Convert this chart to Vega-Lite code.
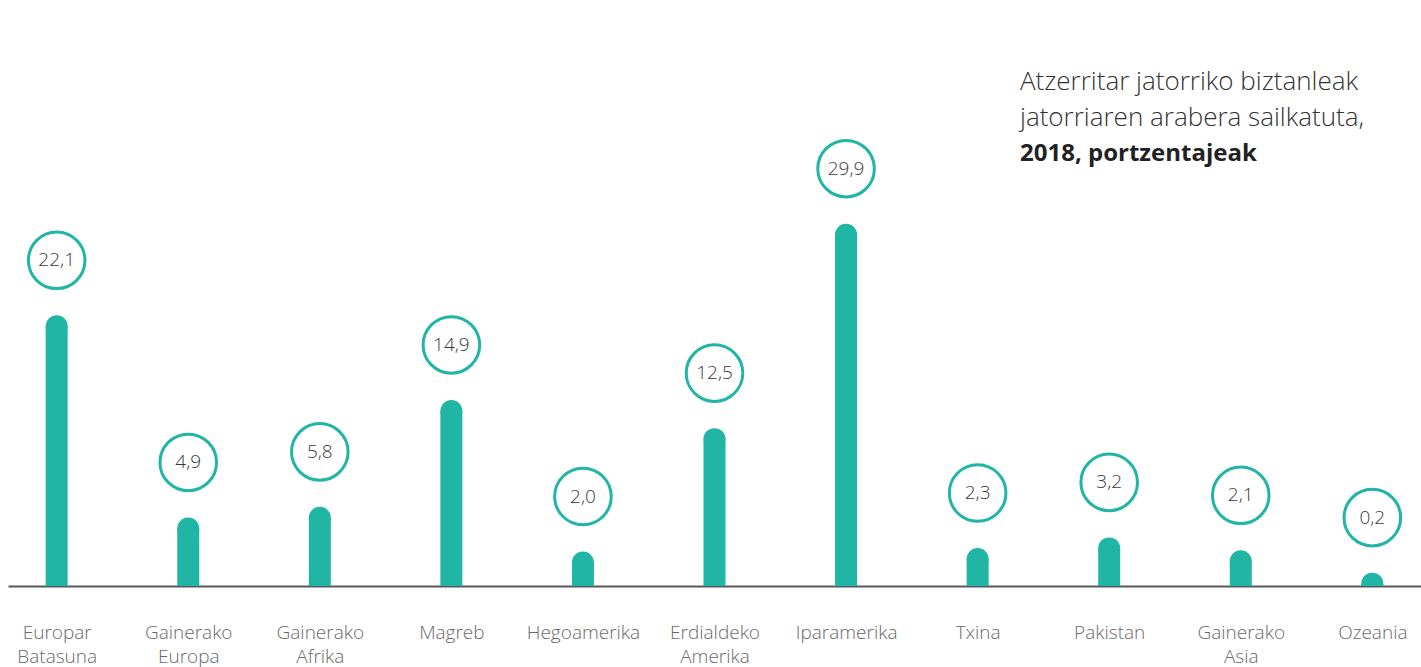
{
  "$schema": "https://vega.github.io/schema/vega-lite/v6.json",
  "width": 1413,
  "height": 470,
  "autosize": {"type": "none"},
  "padding": {"top": 116, "left": 8, "right": 0, "bottom": 81},
  "background": "white",
  "title": {
    "text": ["Atzerritar jatorriko biztanleak", "jatorriaren arabera sailkatuta,"],
    "subtitle": "2018, portzentajeak",
    "anchor": "start",
    "frame": "group",
    "dx": 1012,
    "dy": 54,
    "font": "Open Sans",
    "fontSize": 26,
    "fontWeight": 300,
    "color": "#333333",
    "lineHeight": 36,
    "subtitleFont": "Open Sans",
    "subtitleFontSize": 24,
    "subtitleFontWeight": "bold",
    "subtitleColor": "#222222",
    "subtitlePadding": 11
  },
  "config": {
    "view": {"stroke": null},
    "locale": {"number": {"decimal": ",", "thousands": ".", "grouping": [3], "currency": ["", " €"]}}
  },
  "data": {
    "values": [
      {"jatorria": "Europar Batasuna", "portzentajea": 22.1},
      {"jatorria": "Gainerako Europa", "portzentajea": 4.9},
      {"jatorria": "Gainerako Afrika", "portzentajea": 5.8},
      {"jatorria": "Magreb", "portzentajea": 14.9},
      {"jatorria": "Hegoamerika", "portzentajea": 2.0},
      {"jatorria": "Erdialdeko Amerika", "portzentajea": 12.5},
      {"jatorria": "Iparamerika", "portzentajea": 29.9},
      {"jatorria": "Txina", "portzentajea": 2.3},
      {"jatorria": "Pakistan", "portzentajea": 3.2},
      {"jatorria": "Gainerako Asia", "portzentajea": 2.1},
      {"jatorria": "Ozeania", "portzentajea": 0.2}
    ]
  },
  "encoding": {
    "x": {
      "field": "jatorria",
      "type": "nominal",
      "sort": null,
      "scale": {"type": "point", "padding": 0.37},
      "axis": {
        "title": null,
        "labelAngle": 0,
        "labelExpr": "split(datum.label, ' ')",
        "labelFont": "Open Sans",
        "labelFontWeight": 300,
        "labelFontSize": 19,
        "labelColor": "#6a6a6a",
        "labelLineHeight": 24,
        "labelPadding": 37,
        "ticks": false,
        "domainColor": "#595959",
        "domainWidth": 2
      }
    },
    "y": {
      "field": "portzentajea",
      "type": "quantitative",
      "scale": {"domain": [0, 40]},
      "axis": null
    }
  },
  "layer": [
    {"mark": {"type": "bar", "size": 22, "color": "#20B5A5"}},
    {"mark": {"type": "point", "shape": "circle", "filled": true, "size": 484, "strokeWidth": 0, "color": "#20B5A5", "opacity": 1, "clip": true}},
    {"mark": {"type": "point", "shape": "circle", "filled": true, "size": 3200, "fill": "white", "stroke": "#20B5A5", "strokeWidth": 3, "opacity": 1, "yOffset": -66}},
    {
      "mark": {"type": "text", "yOffset": -66, "font": "Open Sans", "fontWeight": 300, "fontSize": 19, "color": "#3a3a3a", "baseline": "middle"},
      "encoding": {"text": {"field": "portzentajea", "type": "quantitative", "format": ".1f"}}
    }
  ]
}
